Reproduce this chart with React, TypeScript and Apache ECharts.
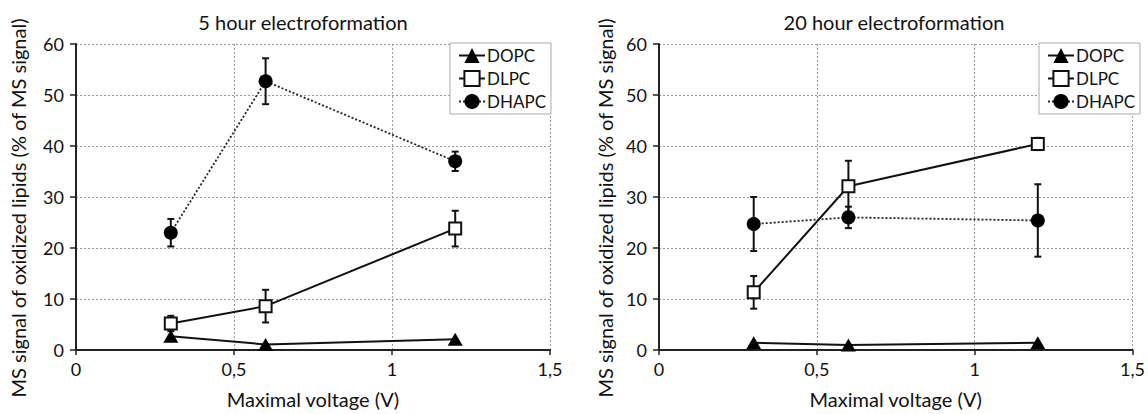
import React, { useEffect, useRef } from "react";
import * as echarts from "echarts";

const voltages = [0.3, 0.6, 1.2];
const seriesNames = ["DOPC", "DLPC", "DHAPC"];

// 5 hour electroformation
const dopc5 = [2.7, 1.1, 2.1];
const dlpc5 = [5.2, 8.6, 23.8];
const dlpc5Err = [1.5, 3.2, 3.5];
const dhapc5 = [23.0, 52.7, 37.0];
const dhapc5Err = [2.7, 4.5, 1.9];

// 20 hour electroformation
const dopc20 = [1.4, 1.0, 1.4];
const dlpc20 = [11.3, 32.1, 40.4];
const dlpc20Err = [3.2, 5.0, 1.2];
const dhapc20 = [24.7, 26.0, 25.4];
const dhapc20Err = [5.3, 2.1, 7.1];

const titles = ["5 hour electroformation", "20 hour electroformation"];
const xName = "Maximal voltage (V)";
const yName = "MS signal of oxidized lipids (% of MS signal)";

const FONT = "Lato";

export default function App() {
  const ref = useRef<HTMLDivElement>(null);
  useEffect(() => {
    document.body.style.margin = "0";
    const chart = echarts.init(ref.current!, null, { renderer: "svg" });

    const grids = [
      { left: 76, top: 44, width: 474, height: 309 },
      { left: 659, top: 44, width: 475, height: 309 },
    ];
    const titleCenters = [303, 894];
    const yNameX = [18, 605];
    const legendLeft = [450, 1039];

    const data = [
      { dopc: dopc5, dlpc: dlpc5, dlpcErr: dlpc5Err, dhapc: dhapc5, dhapcErr: dhapc5Err },
      { dopc: dopc20, dlpc: dlpc20, dlpcErr: dlpc20Err, dhapc: dhapc20, dhapcErr: dhapc20Err },
    ];

    const pair = (ys: number[]) => voltages.map((x, i) => [x, ys[i]]);
    const triple = (ys: number[], es: number[]) => voltages.map((x, i) => [x, ys[i], es[i]]);

    const errRender = (params: any, api: any) => {
      const x = api.value(0);
      const y = api.value(1);
      const e = api.value(2);
      const top = api.coord([x, y + e]);
      const bot = api.coord([x, y - e]);
      const cap = 3.5;
      const style = { stroke: "#111", lineWidth: 2 };
      return {
        type: "group",
        children: [
          { type: "line", shape: { x1: top[0], y1: top[1], x2: bot[0], y2: bot[1] }, style },
          { type: "line", shape: { x1: top[0] - cap, y1: top[1], x2: top[0] + cap, y2: top[1] }, style },
          { type: "line", shape: { x1: bot[0] - cap, y1: bot[1], x2: bot[0] + cap, y2: bot[1] }, style },
        ],
      };
    };

    const series: any[] = [];
    data.forEach((d, gi) => {
      series.push({
        type: "custom",
        name: "errDLPC" + gi,
        xAxisIndex: gi,
        yAxisIndex: gi,
        renderItem: errRender,
        data: triple(d.dlpc, d.dlpcErr),
        z: 2,
        silent: true,
      });
      series.push({
        type: "custom",
        name: "errDHAPC" + gi,
        xAxisIndex: gi,
        yAxisIndex: gi,
        renderItem: errRender,
        data: triple(d.dhapc, d.dhapcErr),
        z: 2,
        silent: true,
      });
      series.push({
        type: "line",
        name: "DOPC",
        xAxisIndex: gi,
        yAxisIndex: gi,
        data: pair(d.dopc),
        symbol: "triangle",
        symbolSize: [15, 13],
        itemStyle: { color: "#000", borderWidth: 0 },
        lineStyle: { color: "#111", width: 2 },
        z: 3,
      });
      series.push({
        type: "line",
        name: "DLPC",
        xAxisIndex: gi,
        yAxisIndex: gi,
        data: pair(d.dlpc),
        symbol: "rect",
        symbolSize: 12,
        itemStyle: { color: "#fff", borderColor: "#111", borderWidth: 2 },
        lineStyle: { color: "#111", width: 2 },
        z: 4,
      });
      series.push({
        type: "line",
        name: "DHAPC",
        xAxisIndex: gi,
        yAxisIndex: gi,
        data: pair(d.dhapc),
        symbol: "circle",
        symbolSize: 14,
        itemStyle: { color: "#000", borderWidth: 0 },
        lineStyle: { color: "#222", width: 1.8, type: [2, 2] },
        z: 4,
      });
    });

    const axisText = { fontFamily: FONT, fontSize: 18, color: "#111" };

    chart.setOption({
      animation: false,
      backgroundColor: "#fff",
      title: titles.map((t, i) => ({
        text: t,
        left: titleCenters[i],
        top: 12,
        textAlign: "center",
        padding: 0,
        textStyle: { fontFamily: FONT, fontSize: 20, fontWeight: "normal", color: "#111" },
      })),
      legend: [0, 1].map((i) => ({
        data: seriesNames,
        orient: "vertical",
        left: legendLeft[i],
        top: 43,
        padding: [3, 5, 3, 8],
        itemGap: 4,
        itemWidth: 26,
        itemHeight: 19,
        borderColor: "#aaa",
        borderWidth: 1,
        backgroundColor: "#fff",
        selectedMode: false,
        textStyle: { fontFamily: FONT, fontSize: 17, lineHeight: 19, color: "#111", padding: [0, 0, 0, -3] },
      })),
      grid: grids,
      xAxis: [0, 1].map((i) => ({
        type: "value",
        gridIndex: i,
        min: 0,
        max: 1.5,
        interval: 0.5,
        name: xName,
        nameLocation: "middle",
        nameGap: 39,
        nameTextStyle: { fontFamily: FONT, fontSize: 20, color: "#111" },
        axisLine: { show: true, onZero: false, lineStyle: { color: "#222", width: 2 } },
        axisTick: { show: true, length: 5, lineStyle: { color: "#222", width: 1.5 } },
        axisLabel: {
          ...axisText,
          margin: 10,
          formatter: (v: number) => String(v).replace(".", ","),
        },
        splitLine: { show: true, lineStyle: { color: "#999", width: 1, type: [2, 2] } },
      })),
      yAxis: [0, 1].map((i) => ({
        type: "value",
        gridIndex: i,
        min: 0,
        max: 60,
        interval: 10,
        axisLine: { show: true, lineStyle: { color: "#222", width: 2 } },
        axisTick: { show: true, length: 6, lineStyle: { color: "#222", width: 1.5 } },
        axisLabel: { ...axisText, margin: 12 },
        splitLine: { show: true, lineStyle: { color: "#999", width: 1, type: [2, 2] } },
      })),
      graphic: [0, 1].map((i) => ({
        type: "text",
        x: yNameX[i],
        y: 208,
        rotation: Math.PI / 2,
        style: {
          text: yName,
          font: `20px ${FONT}`,
          fill: "#111",
          align: "center",
          verticalAlign: "middle",
          textAlign: "center",
          textVerticalAlign: "middle",
        },
      })),
      series,
    });

    return () => chart.dispose();
  }, []);

  return <div ref={ref} style={{ width: 1148, height: 414 }} />;
}
